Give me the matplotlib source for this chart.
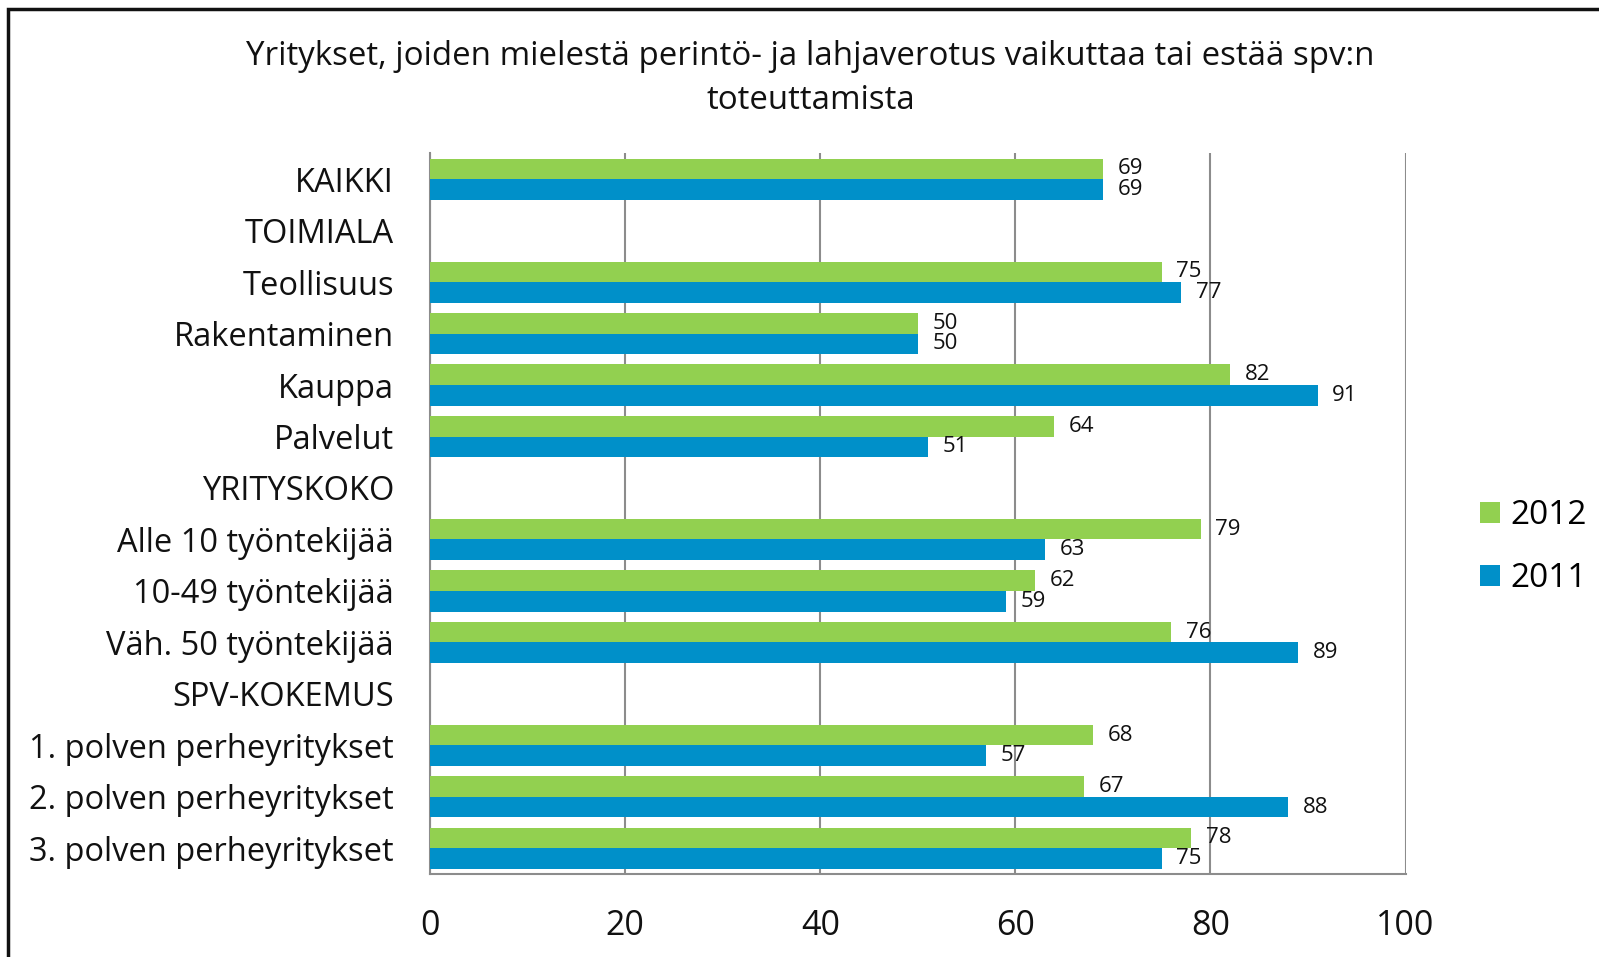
import numpy as np
import matplotlib.pyplot as plt
from matplotlib.patches import Rectangle

plt.rcParams["font.family"] = ["Open Sans", "DejaVu Sans"]

categories = [
    "KAIKKI", "TOIMIALA", "Teollisuus", "Rakentaminen", "Kauppa", "Palvelut",
    "YRITYSKOKO", "Alle 10 työntekijää", "10-49 työntekijää", "Väh. 50 työntekijää",
    "SPV-KOKEMUS", "1. polven perheyritykset", "2. polven perheyritykset",
    "3. polven perheyritykset",
]
values_2012 = [69, None, 75, 50, 82, 64, None, 79, 62, 76, None, 68, 67, 78]
values_2011 = [69, None, 77, 50, 91, 51, None, 63, 59, 89, None, 57, 88, 75]
xticks = [0, 20, 40, 60, 80, 100]

title = "Yritykset, joiden mielestä perintö- ja lahjaverotus vaikuttaa tai estää spv:n\ntoteuttamista"

green = "#92D050"
blue = "#0090C9"

fig = plt.figure(figsize=(15.99, 9.57), dpi=100)
ax = fig.add_axes([0.269, 0.0867, 0.610, 0.753])

n = len(categories)
y = np.arange(n)
h = 0.4

def to_arr(vals):
    return np.array([np.nan if v is None else v for v in vals], dtype=float)

v12 = to_arr(values_2012)
v11 = to_arr(values_2011)

b12 = ax.barh(y - h / 2, np.nan_to_num(v12), height=h, color=green, label="2012", zorder=3)
b11 = ax.barh(y + h / 2, np.nan_to_num(v11), height=h, color=blue, label="2011", zorder=3)

for yy, v in zip(y - h / 2, v12):
    if not np.isnan(v):
        ax.text(v + 1.5, yy, f"{v:.0f}", va="center", ha="left", fontsize=16, color="#111111")
for yy, v in zip(y + h / 2, v11):
    if not np.isnan(v):
        ax.text(v + 1.5, yy, f"{v:.0f}", va="center", ha="left", fontsize=16, color="#111111")

ax.set_ylim(n - 0.5, -0.5)
ax.set_xlim(0, 100)
ax.set_yticks(y)
ax.set_yticklabels(categories, fontsize=23.5, color="#111111")
ax.set_xticks(xticks)
ax.set_xticklabels([str(t) for t in xticks], fontsize=24.5, color="#111111")
ax.tick_params(axis="both", length=0)
ax.tick_params(axis="y", pad=26)
ax.tick_params(axis="x", pad=25)

ax.grid(axis="x", color="#8c8c8c", linewidth=1.5, zorder=0)
for s in ["top", "right"]:
    ax.spines[s].set_visible(False)
for s in ["left", "bottom"]:
    ax.spines[s].set_color("#8c8c8c")
    ax.spines[s].set_linewidth(1.5)

fig.text(0.507, 0.918, title, ha="center", va="center", fontsize=23.8,
         linespacing=1.45, color="#111111")

handles = [b12, b11]
fig.legend(handles, ["2012", "2011"], loc="center left", bbox_to_anchor=(0.907, 0.428),
           frameon=False, fontsize=24, handlelength=0.6, handleheight=0.6,
           handletextpad=0.3, labelspacing=0.9)

frame = Rectangle((8 / 1599, -0.05), 1.2, 1 - 9 / 957 + 0.05, transform=fig.transFigure,
                  fill=False, edgecolor="#111111", linewidth=2.5, clip_on=False)
fig.patches.append(frame)

plt.savefig("out.png", dpi=100)
